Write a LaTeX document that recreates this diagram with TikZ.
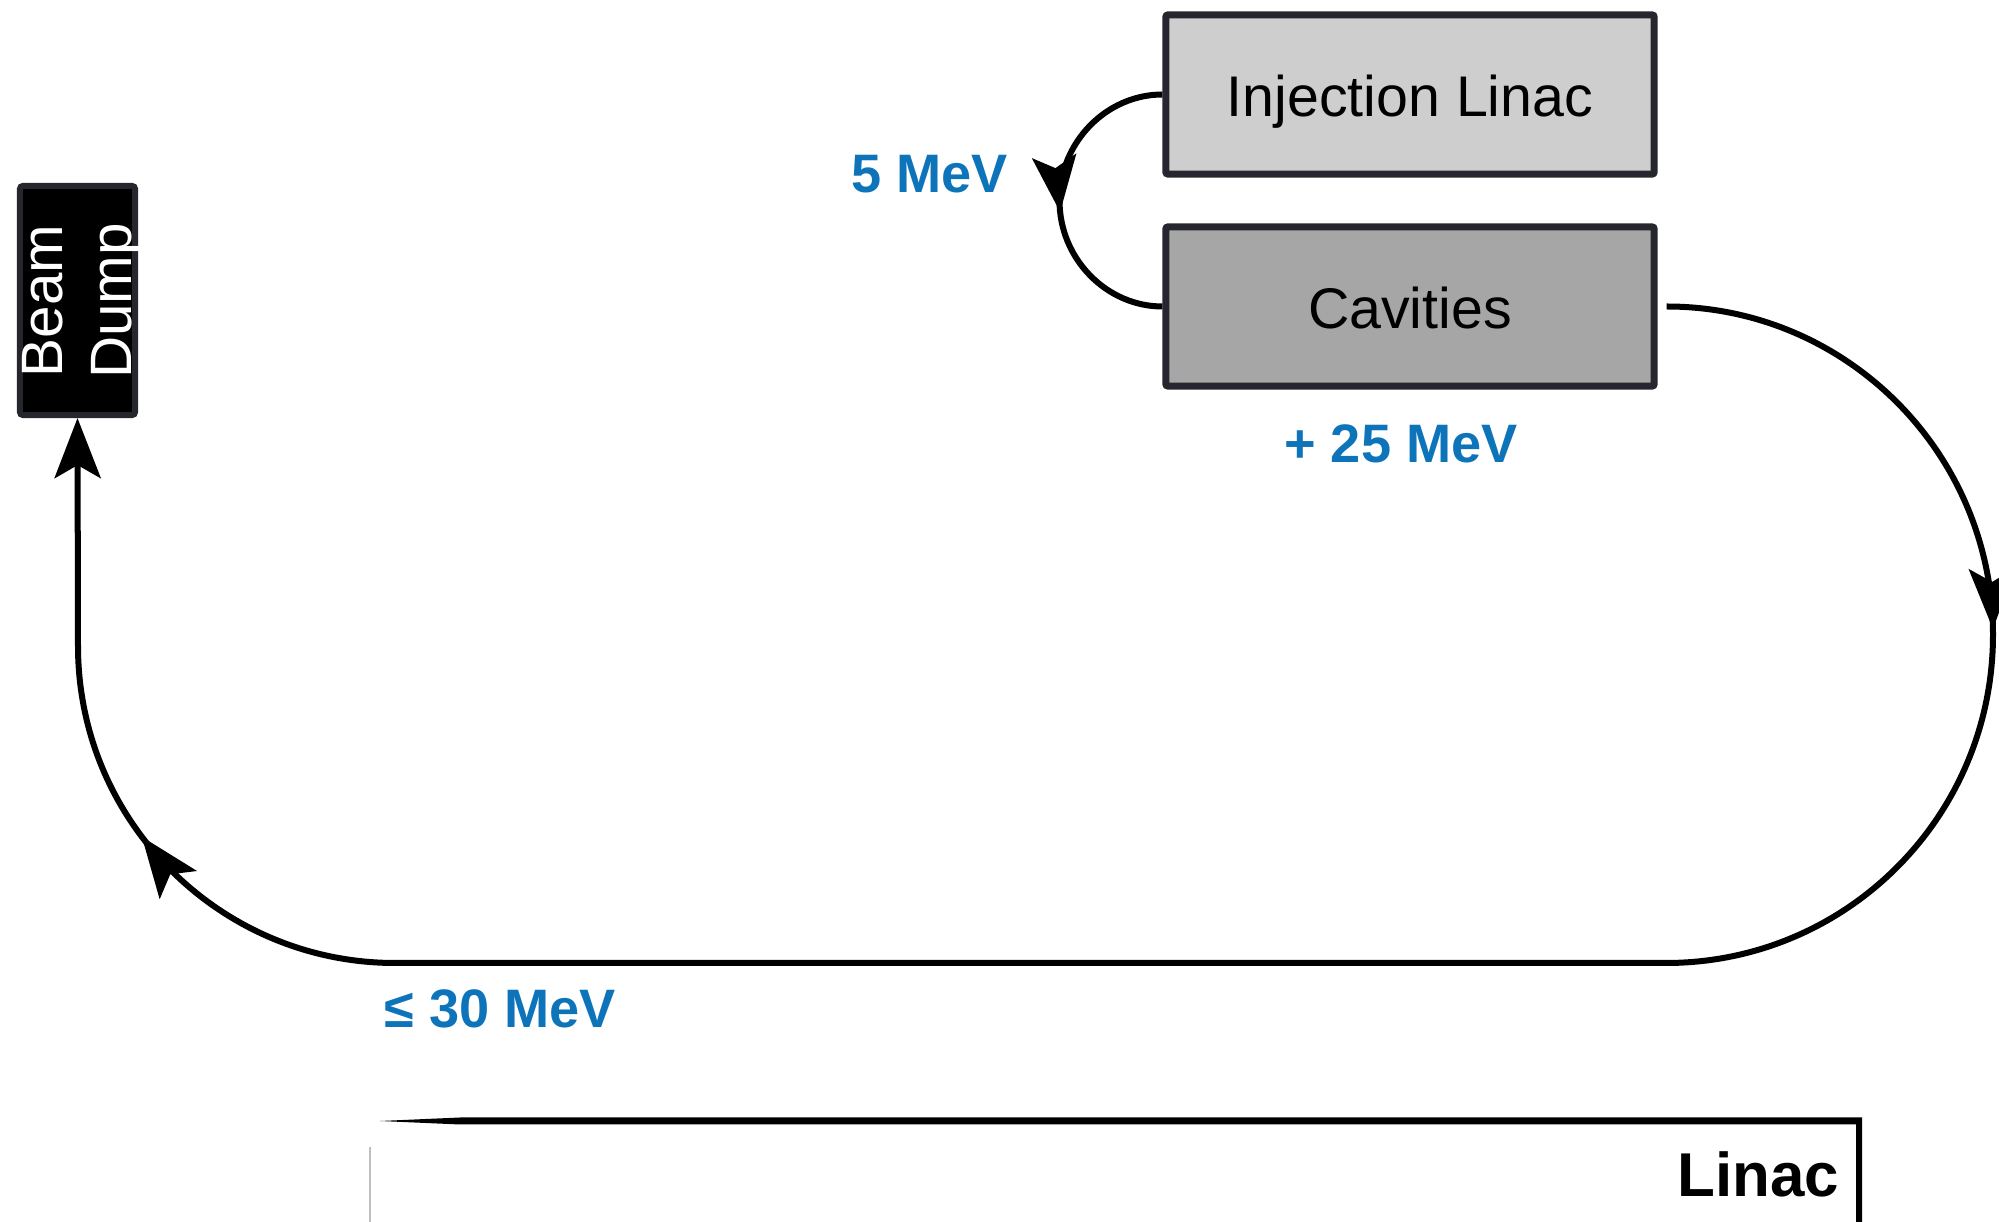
\documentclass[tikz,border=0pt]{standalone}
\usepackage{fontspec}
\setmainfont{Liberation Sans}
\usetikzlibrary{arrows.meta,decorations.markings}
\definecolor{lblblue}{RGB}{14,116,186}
\definecolor{boxborder}{RGB}{38,38,46}
\definecolor{injfill}{RGB}{206,206,206}
\definecolor{cavfill}{RGB}{166,166,166}
\tikzset{
  bigtip/.tip={Stealth[length=0.6cm,width=0.46cm,inset=0.13cm]},
  smalltip/.tip={Stealth[length=0.56cm,width=0.44cm,inset=0.12cm]},
  beamline/.style={draw=black,line width=0.06cm},
  blockbox/.style={draw=boxborder,line width=0.07cm,rounded corners=0.02cm,
    minimum width=4.88cm,minimum height=1.59cm,inner sep=0pt,
    text height=0.43cm,text depth=0cm,
    font=\fontsize{16.3}{19}\selectfont},
  dumpbox/.style={draw=boxborder,fill=black,line width=0.06cm,rounded corners=0.03cm,
    minimum width=1.15cm,minimum height=2.29cm,inner sep=0pt},
  energy/.style={text=lblblue,font=\bfseries\fontsize{15.4}{18}\selectfont,inner sep=0pt,anchor=base}
}
\begin{document}
\begin{tikzpicture}[x=0.01cm,y=-0.01cm]
\useasboundingbox (0,0) rectangle (1999,1222);
% boxes
\node[blockbox,fill=injfill] (inj) at (1410,94.5) {Injection Linac};
\node[blockbox,fill=cavfill] (cav) at (1410,306.5) {Cavities};
\node[dumpbox] (bd) at (77.5,300.5) {};
\node[rotate=90,text=white,align=center,inner sep=0pt,
  font=\fontsize{16.6}{19.6}\selectfont] (bdtext) at (83,301) {Beam\\Dump};
% energy labels
\node[energy] (e5) at (929.5,193) {5 MeV};
\node[energy] (e25) at (1401,463) {+ 25 MeV};
\node[energy] (e30) at (500,1028) {≤ 30 MeV};
% injection loop
\draw[beamline,postaction={decorate},
  decoration={markings,mark=at position 0.535 with {\arrow{smalltip}}}]
  (inj.west) .. controls (1106.7,94.5) and (1059.5,142) .. (1059.5,200.5)
  .. controls (1059.5,259) and (1106.7,306.5) .. (cav.west);
% main loop
\draw[beamline,-{bigtip},postaction={decorate},
  decoration={markings,
    mark=at position 0.168 with {\arrow{bigtip}},
    mark=at position 0.857 with {\arrow{bigtip}}}]
  ([xshift=0.09cm]cav.east) .. controls (1847,306.5) and (1993,454) .. (1993,634.75)
  .. controls (1993,816) and (1847,963) .. (1666,963)
  -- (395,963)
  .. controls (220,963) and (78,821) .. (78,646)
  -- (bd.south);
% linac frame
\fill[black] (380,1121) -- (460,1117.5) -- (1862,1117.5) -- (1862,1222)
  -- (1856,1222) -- (1856,1124.5) -- (460,1124.5) -- cycle;
\draw[gray!50,line width=0.015cm] (370,1147) -- (370,1222);
\node[anchor=base east,inner sep=0pt,font=\bfseries\fontsize{17.6}{20}\selectfont] (linac) at (1840,1197) {Linac};
\end{tikzpicture}
\end{document}
